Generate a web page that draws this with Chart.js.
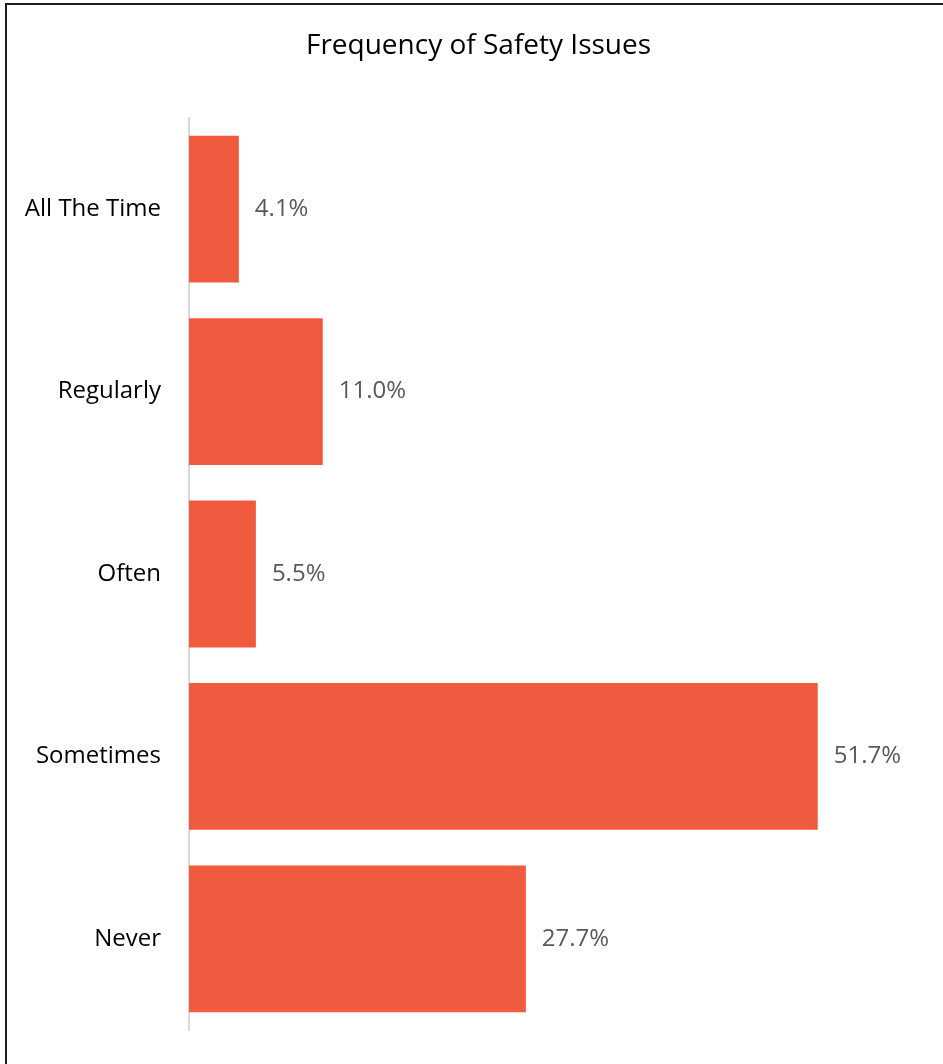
<!DOCTYPE html>
<html>
<head>
<meta charset="utf-8">
<script src="https://cdn.jsdelivr.net/npm/chart.js@4/dist/chart.umd.min.js"></script>
<style>
  html, body { margin: 0; padding: 0; background: #fff; overflow: hidden; }
  #wrap { position: relative; width: 943px; height: 1064px; }
  #frame {
    position: absolute; left: 5px; top: 3px;
    width: 2000px; height: 2000px;
    border: 2px solid #1e1e1e; pointer-events: none;
  }
</style>
</head>
<body>
<div id="wrap">
  <canvas id="safetyChart" width="943" height="1064"></canvas>
  <div id="frame"></div>
</div>
<script>
  const categories = ['All The Time', 'Regularly', 'Often', 'Sometimes', 'Never'];
  const percentages = [4.1, 11.0, 5.5, 51.7, 27.7];
  const chartTitle = 'Frequency of Safety Issues';

  const fontFamily = "'Open Sans', 'Liberation Sans', sans-serif";

  // percent labels to the right of each bar
  const valueLabels = {
    id: 'valueLabels',
    afterDatasetsDraw(chart) {
      const ctx = chart.ctx;
      const meta = chart.getDatasetMeta(0);
      ctx.save();
      ctx.font = '24px ' + fontFamily;
      ctx.fillStyle = '#595959';
      ctx.textAlign = 'left';
      ctx.textBaseline = 'middle';
      meta.data.forEach((bar, i) => {
        ctx.fillText(percentages[i].toFixed(1) + '%', bar.x + 16, bar.y);
      });
      ctx.restore();
    },
  };

  const data = {
    labels: categories,
    datasets: [
      {
        data: percentages,
        backgroundColor: '#F05B40',
        borderWidth: 0,
        categoryPercentage: 1,
        barPercentage: 0.805,
      },
    ],
  };

  const config = {
    type: 'bar',
    data,
    options: {
      indexAxis: 'y',
      responsive: false,
      animation: false,
      layout: {
        padding: { left: 14, right: 0, top: 0, bottom: 34 },
      },
      scales: {
        x: {
          display: false,
          min: 0,
          max: 62,
        },
        y: {
          grid: { display: true, drawOnChartArea: false, drawTicks: false },
          border: { color: '#d9d9d9', width: 2 },
          ticks: {
            color: '#000',
            padding: 28,
            font: { family: fontFamily, size: 24 },
          },
          afterFit: (scale) => {
            scale.width = 175;
            scale.paddingTop = 0;
            scale.paddingBottom = 0;
          },
        },
      },
      plugins: {
        legend: { display: false },
        tooltip: { enabled: false },
        title: {
          display: true,
          text: chartTitle,
          color: '#000',
          font: { family: fontFamily, size: 28, weight: 'normal', lineHeight: 1.2 },
          padding: { top: 29, bottom: 55.4 },
        },
      },
    },
    plugins: [valueLabels],
  };

  const safetyChart = new Chart(document.getElementById('safetyChart'), config);
</script>
</body>
</html>
